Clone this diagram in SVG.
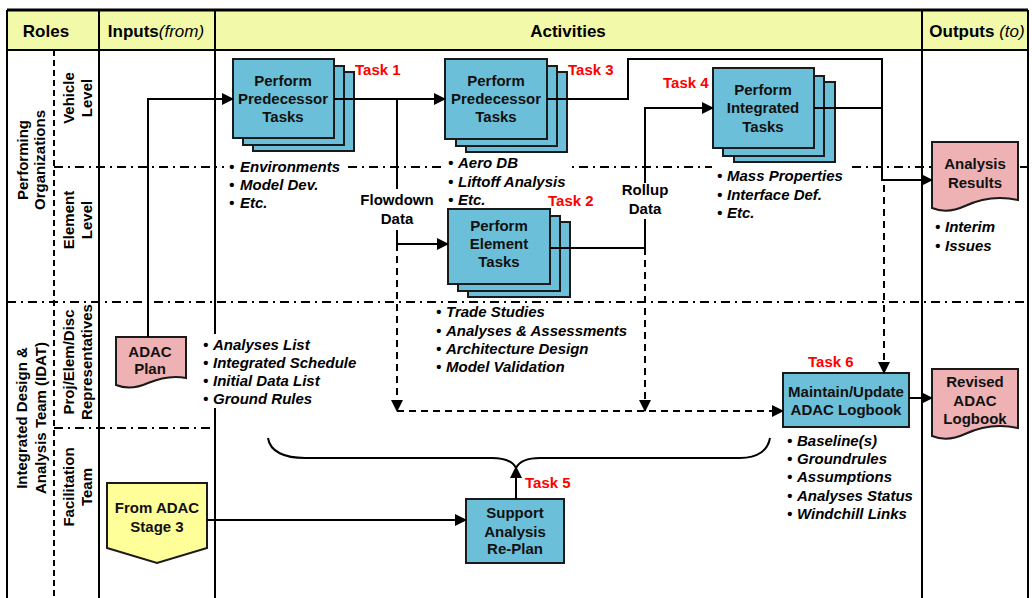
<svg xmlns="http://www.w3.org/2000/svg" width="1032" height="598" viewBox="0 0 1032 598">
<style>
text{font-family:"Liberation Sans",Arial,sans-serif;fill:#000}
.hd{font-size:17px;font-weight:bold}
.it{font-style:italic;font-weight:normal}
.rl{font-size:15px;font-weight:bold;text-anchor:middle}
.bx{font-size:15px;font-weight:bold;text-anchor:middle;fill:#111}
.tk{font-size:15px;font-weight:bold;fill:#ff0000}
.bl{font-size:15px;font-weight:bold;font-style:italic}
.lb{font-size:15px;font-weight:bold;text-anchor:middle}
.box{fill:#6cbfd8;stroke:#1a1a1a;stroke-width:2}
.doc{fill:#eeb1b4;stroke:#1a1a1a;stroke-width:2}
.grid{stroke:#000;stroke-width:2;fill:none}
.dd{stroke:#000;stroke-width:2;stroke-dasharray:9 5 2 5;fill:none}
.dv{stroke:#000;stroke-width:2;stroke-dasharray:6 4;fill:none}
.ln{stroke:#000;stroke-width:2;fill:none}
.dl{stroke:#000;stroke-width:2;fill:none;stroke-dasharray:7 5}
.wb{fill:#fff}
</style>
<defs>
<marker id="ar" markerUnits="userSpaceOnUse" markerWidth="12" markerHeight="12" refX="11" refY="6" orient="auto">
<path d="M0,0 L12,6 L0,12 Z" fill="#000"/>
</marker>
</defs>
<rect x="0" y="0" width="1032" height="598" fill="#fff"/>
<g id="grid">
<rect x="7" y="10" width="1021" height="40" fill="#f2f9a8"/>
<line class="grid" x1="7" y1="10" x2="1028" y2="10" style="stroke-width:3"/>
<line class="grid" x1="7" y1="50" x2="1028" y2="50"/>
<line class="grid" x1="7" y1="10" x2="7" y2="598"/>
<line class="grid" x1="99" y1="10" x2="99" y2="598"/>
<line class="grid" x1="215" y1="10" x2="215" y2="598"/>
<line class="grid" x1="922" y1="10" x2="922" y2="598"/>
<line class="grid" x1="1028" y1="10" x2="1028" y2="598"/>
<line class="dv" x1="54" y1="50" x2="54" y2="598"/>
<line class="dd" x1="54" y1="167" x2="1028" y2="167"/>
<line class="dd" x1="7" y1="302" x2="1028" y2="302"/>
<line class="dd" x1="54" y1="428" x2="215" y2="428"/>
<text class="hd" x="46" y="37" text-anchor="middle">Roles</text>
<text class="hd" x="156" y="37" text-anchor="middle">Inputs<tspan class="it">(from)</tspan></text>
<text class="hd" x="568" y="37" text-anchor="middle">Activities</text>
<text class="hd" x="977" y="37" text-anchor="middle">Outputs <tspan class="it">(to)</tspan></text>
</g>
<g id="roles">
<g transform="translate(31,160) rotate(-90)"><text class="rl" x="0" y="-3">Performing</text><text class="rl" x="0" y="14">Organizations</text></g>
<g transform="translate(31,418) rotate(-90)"><text class="rl" x="0" y="-4">Integrated Design &amp;</text><text class="rl" x="0" y="15">Analysis Team (IDAT)</text></g>
<g transform="translate(78,98) rotate(-90)"><text class="rl" x="0" y="-4">Vehicle</text><text class="rl" x="0" y="14">Level</text></g>
<g transform="translate(78,220) rotate(-90)"><text class="rl" x="0" y="-4">Element</text><text class="rl" x="0" y="14">Level</text></g>
<g transform="translate(78,362) rotate(-90)"><text class="rl" x="0" y="-4">Proj/Elem/Disc</text><text class="rl" x="0" y="14">Representatives</text></g>
<g transform="translate(78,487) rotate(-90)"><text class="rl" x="0" y="-4">Facilitation</text><text class="rl" x="0" y="14">Team</text></g>
</g>
<g id="lists">
<rect class="wb" x="224" y="157" width="119" height="54"/>
<text class="bl" y="172"><tspan x="229">•</tspan><tspan x="240">Environments</tspan></text>
<text class="bl" y="190"><tspan x="229">•</tspan><tspan x="240">Model Dev.</tspan></text>
<text class="bl" y="208"><tspan x="229">•</tspan><tspan x="240">Etc.</tspan></text>
<rect class="wb" x="443" y="155" width="126" height="54"/>
<text class="bl" y="168"><tspan x="448">•</tspan><tspan x="458">Aero DB</tspan></text>
<text class="bl" y="187"><tspan x="448">•</tspan><tspan x="458">Liftoff Analysis</tspan></text>
<text class="bl" y="205"><tspan x="448">•</tspan><tspan x="458">Etc.</tspan></text>
<rect class="wb" x="712" y="164" width="135" height="58"/>
<text class="bl" y="181"><tspan x="717">•</tspan><tspan x="727">Mass Properties</tspan></text>
<text class="bl" y="200"><tspan x="717">•</tspan><tspan x="727">Interface Def.</tspan></text>
<text class="bl" y="218"><tspan x="717">•</tspan><tspan x="727">Etc.</tspan></text>
<text class="bl" y="317"><tspan x="436">•</tspan><tspan x="446">Trade Studies</tspan></text>
<text class="bl" y="336"><tspan x="436">•</tspan><tspan x="446">Analyses &amp; Assessments</tspan></text>
<text class="bl" y="354"><tspan x="436">•</tspan><tspan x="446">Architecture Design</tspan></text>
<text class="bl" y="372"><tspan x="436">•</tspan><tspan x="446">Model Validation</tspan></text>
<rect class="wb" x="200" y="334" width="164" height="74"/>
<text class="bl" y="350"><tspan x="203">•</tspan><tspan x="213">Analyses List</tspan></text>
<text class="bl" y="368"><tspan x="203">•</tspan><tspan x="213">Integrated Schedule</tspan></text>
<text class="bl" y="386"><tspan x="203">•</tspan><tspan x="213">Initial Data List</tspan></text>
<text class="bl" y="404"><tspan x="203">•</tspan><tspan x="213">Ground Rules</tspan></text>
<text class="bl" y="446"><tspan x="787">•</tspan><tspan x="797">Baseline(s)</tspan></text>
<text class="bl" y="464"><tspan x="787">•</tspan><tspan x="797">Groundrules</tspan></text>
<text class="bl" y="482"><tspan x="787">•</tspan><tspan x="797">Assumptions</tspan></text>
<text class="bl" y="501"><tspan x="787">•</tspan><tspan x="797">Analyses Status</tspan></text>
<text class="bl" y="519"><tspan x="787">•</tspan><tspan x="797">Windchill Links</tspan></text>
<text class="bl" y="232"><tspan x="935">•</tspan><tspan x="945">Interim</tspan></text>
<text class="bl" y="251"><tspan x="935">•</tspan><tspan x="945">Issues</tspan></text>
</g>
<g id="task1">
<rect class="box" x="253" y="72" width="101" height="79"/>
<rect class="box" x="243" y="66" width="101" height="79"/>
<rect class="box" x="233" y="59" width="101" height="79"/>
<text class="bx" x="283" y="86">Perform</text>
<text class="bx" x="283" y="104">Predecessor</text>
<text class="bx" x="283" y="122">Tasks</text>
<text class="tk" x="355" y="75">Task 1</text>
</g>
<g id="task3">
<rect class="box" x="466" y="72" width="101" height="80"/>
<rect class="box" x="456" y="66" width="101" height="80"/>
<rect class="box" x="445" y="59" width="102" height="80"/>
<text class="bx" x="496" y="86">Perform</text>
<text class="bx" x="496" y="104">Predecessor</text>
<text class="bx" x="496" y="122">Tasks</text>
<text class="tk" x="568" y="75">Task 3</text>
</g>
<g id="task4">
<rect class="box" x="734" y="82" width="101" height="80"/>
<rect class="box" x="723" y="76" width="101" height="80"/>
<rect class="box" x="713" y="68" width="101" height="80"/>
<text class="bx" x="763" y="95">Perform</text>
<text class="bx" x="763" y="113">Integrated</text>
<text class="bx" x="763" y="132">Tasks</text>
<text class="tk" x="663" y="88">Task 4</text>
</g>
<g id="task2">
<rect class="box" x="468" y="222" width="102" height="75"/>
<rect class="box" x="458" y="216" width="102" height="75"/>
<rect class="box" x="448" y="209" width="102" height="75"/>
<text class="bx" x="499" y="231">Perform</text>
<text class="bx" x="499" y="249">Element</text>
<text class="bx" x="499" y="267">Tasks</text>
<text class="tk" x="548" y="206">Task 2</text>
</g>
<g id="task6">
<rect class="box" x="783" y="373" width="126" height="54"/>
<text class="bx" x="846" y="397">Maintain/Update</text>
<text class="bx" x="846" y="415">ADAC Logbook</text>
<text class="tk" x="808" y="367">Task 6</text>
</g>
<g id="task5">
<rect class="box" x="466" y="499" width="98" height="64"/>
<text class="bx" x="515" y="518">Support</text>
<text class="bx" x="515" y="537">Analysis</text>
<text class="bx" x="515" y="554">Re-Plan</text>
<text class="tk" x="525" y="488">Task 5</text>
</g>
<g id="analysis-results">
<path class="doc" d="M932,142 H1018 V200 C1000,196 982,198 965,206 C952,212 942,212 932,208 Z"/>
<text class="bx" x="975" y="169">Analysis</text>
<text class="bx" x="975" y="188">Results</text>
</g>
<g id="revised-logbook">
<path class="doc" d="M932,369 H1018 V428 C1000,424 982,426 965,434 C952,440 942,440 932,436 Z"/>
<text class="bx" x="975" y="387">Revised</text>
<text class="bx" x="975" y="406">ADAC</text>
<text class="bx" x="975" y="424">Logbook</text>
</g>
<g id="adac-plan">
<path class="doc" d="M116,337 H186 V378 C172,375 160,378 148,383 C137,388 126,389 116,385 Z"/>
<text class="bx" x="150" y="357">ADAC</text>
<text class="bx" x="150" y="374">Plan</text>
</g>
<g id="stage3">
<path d="M107,483 H207 V548 L157,563 L107,548 Z" fill="#ffff99" stroke="#1a1a1a" stroke-width="2"/>
<text class="bx" x="157" y="513">From ADAC</text>
<text class="bx" x="157" y="532">Stage 3</text>
</g>
<g id="connectors">
<path class="ln" d="M148,337 V99 H233" marker-end="url(#ar)"/>
<path class="ln" d="M334,99 H445" marker-end="url(#ar)"/>
<path class="ln" d="M397,99 V189"/>
<path class="ln" d="M397,230 V244 H448" marker-end="url(#ar)"/>
<path class="dl" d="M397,244 V411" marker-end="url(#ar)"/>
<path class="ln" d="M547,99 H628 V59 H882 V180 H932" marker-end="url(#ar)"/>
<path class="ln" d="M645,183 V108 H713" marker-end="url(#ar)"/>
<path class="ln" d="M814,108 H882"/>
<path class="ln" d="M550,248 H645 V219"/>
<path class="dl" d="M645,248 V411" marker-end="url(#ar)"/>
<path class="dl" d="M397,411 H783" marker-end="url(#ar)"/>
<path class="dl" d="M884,185 V373" marker-end="url(#ar)"/>
<path class="ln" d="M909,398 H932" marker-end="url(#ar)"/>
<path class="ln" d="M207,520 H466" marker-end="url(#ar)"/>
<path class="ln" d="M268,438 C270,452 285,458 305,458 L492,458 C506,458 513,462 516,468 C519,462 526,458 540,458 L740,458 C758,458 768,450 770,438"/>
<path class="ln" d="M516,499 V467" marker-end="url(#ar)"/>
<text class="lb" x="397" y="205">Flowdown</text>
<text class="lb" x="397" y="224">Data</text>
<text class="lb" x="645" y="195">Rollup</text>
<text class="lb" x="645" y="214">Data</text>
</g>
</svg>
